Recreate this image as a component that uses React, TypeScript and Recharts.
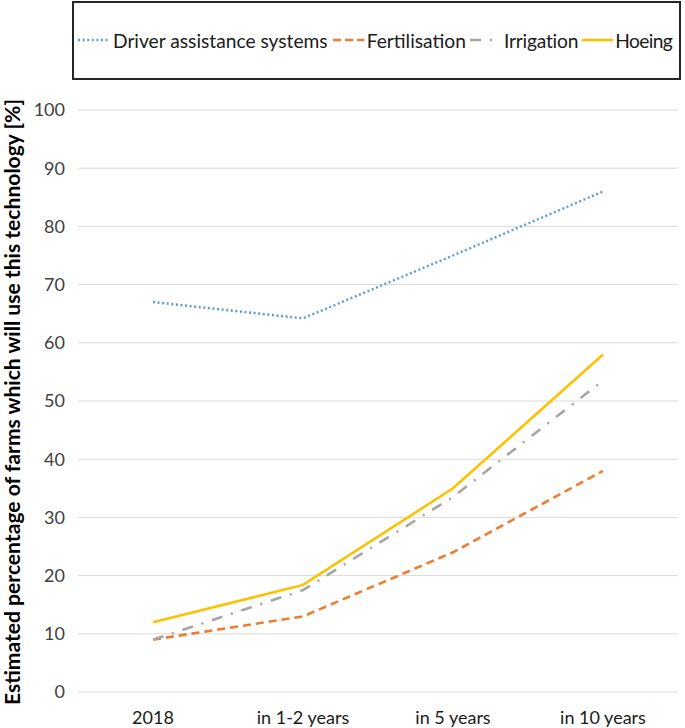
import React from "react";
import { LineChart, Line, XAxis, YAxis, CartesianGrid, Legend, Label } from "recharts";

const categories = ["2018", "in 1-2 years", "in 5 years", "in 10 years"];
const driverAssistance = [67, 64.2, 75, 86];
const fertilisation = [9, 13, 24, 38];
const irrigation = [9, 17.5, 33.5, 53.5];
const hoeing = [12, 18.4, 35, 58];
const yTicks = [0, 10, 20, 30, 40, 50, 60, 70, 80, 90, 100];

const data = categories.map((c, i) => ({
  category: c,
  driver: driverAssistance[i],
  fert: fertilisation[i],
  irrig: irrigation[i],
  hoe: hoeing[i],
}));

const FONT = "Lato, 'Open Sans', sans-serif";

const series = [
  { key: "driver", name: "Driver assistance systems", color: "#5B9BD5", dash: "2 2.6", width: 2.4, cap: "butt" },
  { key: "fert", name: "Fertilisation", color: "#ED7D31", dash: "8 5", width: 2.6, cap: "butt" },
  { key: "irrig", name: "Irrigation", color: "#A5A5A5", dash: "11 9 2 9", width: 2.6, cap: "butt" },
  { key: "hoe", name: "Hoeing", color: "#FFC000", dash: undefined, width: 2.6, cap: "butt" },
];

const legendIcons: Record<string, { w: number; dash?: string; before: number; after: number; ls: number }> = {
  driver: { w: 32, dash: "2 2.6", before: 4, after: 3, ls: 0 },
  fert: { w: 31, dash: "8 4", before: 5, after: 3, ls: 0 },
  irrig: { w: 26, dash: "11 9 2 9", before: 4, after: 8, ls: -0.2 },
  hoe: { w: 31, dash: undefined, before: 4, after: 2, ls: -0.6 },
};

const renderLegend = () => (
  <div
    style={{
      width: 609,
      height: 79,
      boxSizing: "border-box",
      border: "2px solid #262626",
      display: "flex",
      alignItems: "center",
      fontFamily: FONT,
      fontSize: 19.2,
      color: "#1a1a1a",
      whiteSpace: "nowrap",
      paddingBottom: 1,
      overflow: "hidden",
    }}
  >
    {series.map((s) => {
      const ic = legendIcons[s.key];
      return (
        <React.Fragment key={s.key}>
          <svg width={ic.w} height={10} style={{ marginLeft: ic.before, marginRight: ic.after, flex: "none" }}>
            <line x1={0} y1={5} x2={ic.w} y2={5} stroke={s.color} strokeWidth={s.width} strokeDasharray={ic.dash} />
          </svg>
          <span style={{ letterSpacing: ic.ls }}>{s.name}</span>
        </React.Fragment>
      );
    })}
  </div>
);

const YLabel = () => (
  <text
    x={20}
    y={402}
    transform="rotate(-90 20 402)"
    textAnchor="middle"
    fontFamily={FONT}
    fontWeight={700}
    fontSize={20}
    fill="#000"
    textLength={606}
    lengthAdjust="spacingAndGlyphs"
  >
    Estimated percentage of farms which will use this technology [%]
  </text>
);

export default function App() {
  return (
    <div style={{ position: "absolute", left: 0, top: 0, width: 685, height: 728, background: "#fff" }}>
      <LineChart width={685} height={728} data={data} margin={{ top: 110, right: 7, bottom: 0, left: 0 }}>
        <CartesianGrid vertical={false} stroke="#d9d9d9" strokeWidth={1} />
        <XAxis
          dataKey="category"
          axisLine={false}
          tickLine={false}
          height={36}
          padding={{ left: 75, right: 75 }}
          tickMargin={13}
          interval={0}
          tick={{ fontFamily: FONT, fontSize: 18, fill: "#1a1a1a" }}
        />
        <YAxis
          domain={[0, 100]}
          ticks={yTicks}
          axisLine={false}
          tickLine={false}
          width={78}
          tickMargin={7}
          interval={0}
          tick={{ fontFamily: FONT, fontSize: 18, fill: "#404040" }}
        >
          <Label content={<YLabel />} />
        </YAxis>
        <Legend
          layout="vertical"
          verticalAlign="middle"
          align="center"
          wrapperStyle={{ top: 1, left: 72, width: 609, height: 79 }}
          content={renderLegend}
        />
        {series.map((s) => (
          <Line
            key={s.key}
            type="linear"
            dataKey={s.key}
            name={s.name}
            stroke={s.color}
            strokeWidth={s.width}
            strokeDasharray={s.dash}
            strokeLinecap={s.cap as any}
            dot={false}
            activeDot={false}
            isAnimationActive={false}
          />
        ))}
      </LineChart>
    </div>
  );
}
